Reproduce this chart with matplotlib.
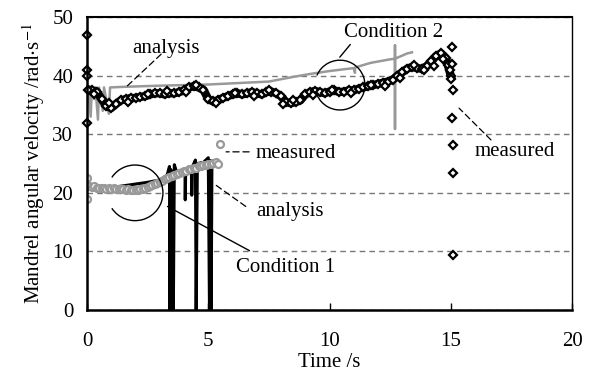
import matplotlib
matplotlib.use("Agg")
import matplotlib.pyplot as plt
from matplotlib.patches import Arc
import numpy as np

plt.rcParams['font.family'] = ['Liberation Serif', 'DejaVu Serif']
plt.rcParams['mathtext.fontset'] = 'stix'

# Condition 2, measured (diamonds), sampled every 0.2 s
c2_meas_t = np.round(np.arange(0.2, 15.01, 0.2), 2)
c2_meas_v = [37.5, 37.3, 36.0, 34.8, 34.5, 35.2, 35.8, 36.0, 36.2, 36.2,
             36.4, 36.5, 36.8, 37.0, 37.0, 36.8, 37.0, 37.0, 37.2, 37.5,
             38.0, 38.2, 38.0, 37.6, 36.0, 35.6, 35.8, 36.2, 36.5, 36.8,
             37.0, 36.8, 37.0, 37.2, 37.0, 36.8, 37.2, 37.3, 37.0, 36.5,
             35.5, 35.3, 35.5, 35.8, 36.8, 37.2, 37.4, 37.2, 37.0, 37.3,
             37.5, 37.2, 37.3, 37.5, 37.5, 37.8, 38.0, 38.2, 38.4, 38.6,
             38.8, 39.0, 39.3, 40.0, 40.6, 41.2, 41.5, 41.3, 41.2, 41.6,
             42.5, 43.4, 43.8, 43.0, 40.0]
# scattered measured points around the band
c2_scat_t = [0.3, 0.9, 1.7, 2.5, 3.3, 4.1, 4.5, 5.3, 6.1, 6.9, 7.5, 8.1, 8.5, 9.3,
             10.1, 10.9, 11.7, 12.3, 12.9, 13.5, 13.9, 14.3, 14.7, 14.9]
c2_scat_v = [36.9, 35.4, 35.5, 36.9, 37.4, 37.2, 38.5, 35.3, 37.0, 36.6, 37.5, 35.2, 35.9, 36.7,
             37.6, 37.0, 38.4, 38.3, 39.6, 41.9, 40.9, 41.7, 42.8, 41.9]
# isolated measured points at start and end of condition 2
c2_out_t = [0.0, 0.0, 0.0, 0.0, 0.05, 15.05, 15.1, 15.05, 15.1, 15.1, 15.1, 15.05, 14.95, 15.0]
c2_out_v = [47.0, 41.0, 40.0, 32.0, 37.5, 44.9, 37.5, 32.7, 28.2, 23.4, 9.4, 42.0, 41.0, 39.5]

# Condition 2, analysis (grey line)
c2_ana_t = [0.05, 0.15, 0.2, 0.3, 0.35, 0.45, 0.5, 0.65, 0.7, 0.9, 0.95, 1.5, 3.0,
            5.0, 6.0, 7.5, 8.5, 9.2, 10.0, 11.0, 11.05, 11.05, 11.7, 12.5, 12.7,
            12.7, 12.7, 12.7, 13.2, 13.4]
c2_ana_v = [38.0, 33.0, 38.0, 36.0, 38.0, 32.5, 38.0, 34.0, 38.0, 33.5, 38.0, 38.1, 38.3,
            38.5, 38.7, 39.0, 39.8, 40.3, 40.8, 41.3, 40.5, 41.4, 42.2, 42.8, 42.9,
            45.2, 30.9, 42.9, 43.8, 44.0]

# Condition 1, measured (black line, with drop-outs)
c1_meas_t = [0.1, 0.5, 1.0, 1.5, 2.0, 2.5, 3.0, 3.3, 3.4, 3.42, 3.45, 3.5, 3.56, 3.6,
             3.7, 3.9, 4.04, 4.05, 4.07, 4.3, 4.32, 4.35, 4.47, 4.5, 4.55, 4.8,
             5.0, 5.05, 5.1, 5.12, 5.15]
c1_meas_v = [20.8, 20.8, 20.9, 21.2, 21.5, 21.8, 22.2, 23.0, 24.5, 0.0, 24.0, 23.5, 0.0, 24.8,
             23.5, 23.5, 24.0, 18.8, 24.0, 24.5, 19.6, 24.5, 25.6, 0.0, 25.0, 25.2,
             26.0, 0.0, 25.5, 0.0, 25.0]

# Condition 1, analysis (grey circles)
c1_ana_t = [0.0, 0.0, 0.1, 0.2, 0.3, 0.4, 0.5, 0.6, 0.7, 0.8, 0.9, 1.0, 1.1, 1.2,
            1.3, 1.4, 1.5, 1.6, 1.7, 1.8, 1.9, 2.0, 2.1, 2.2, 2.3, 2.4, 2.5,
            2.6, 2.7, 2.8, 2.9, 3.0, 3.1, 3.2, 3.3, 3.4, 3.5, 3.6, 3.7, 3.8,
            3.9, 4.0, 4.1, 4.2, 4.3, 4.4, 4.5, 4.6, 4.7, 4.8, 4.9, 5.0, 5.1,
            5.2, 5.3, 5.4, 5.48]
c1_ana_v = [22.5, 19.0, 21.2, 21.0, 21.1, 20.9, 20.8, 20.9, 20.8, 20.7, 20.8, 20.7, 20.8, 20.6,
            20.7, 20.6, 20.6, 20.5, 20.6, 20.5, 20.4, 20.5, 20.5, 20.6, 20.6, 20.8, 21.0,
            21.1, 21.3, 21.5, 21.7, 21.9, 22.1, 22.3, 22.5, 22.7, 22.9, 23.1, 23.2, 23.4,
            23.5, 23.7, 23.8, 24.0, 24.1, 24.2, 24.3, 24.5, 24.6, 24.7, 24.8, 24.9, 25.0,
            25.1, 25.2, 25.0, 28.3]

fig = plt.figure(figsize=(5.94, 3.73), dpi=100)
ax = fig.add_axes([0.1465, 0.169, 0.8165, 0.785])

grey = '#999999'

# condition 1
ax.plot(c1_meas_t, c1_meas_v, color='black', lw=2.2, zorder=3)
ax.plot(c1_ana_t[2:-2], c1_ana_v[2:-2], color=grey, lw=4.0, zorder=4)
ax.plot(c1_ana_t, c1_ana_v, ls='none', marker='o', ms=5.0, mfc='white',
        mec=grey, mew=1.6, zorder=4)

# condition 2
ax.plot(c2_ana_t, c2_ana_v, color=grey, lw=1.8, zorder=3)
ax.plot(c2_meas_t, c2_meas_v, color='black', lw=6.0, zorder=4)
diam = dict(ls='none', marker='D', ms=4.0, mfc='white', mec='black', mew=1.6, zorder=5)
ax.plot(c2_meas_t, c2_meas_v, **diam)
ax.plot(c2_scat_t, c2_scat_v, **diam)
ax.plot(c2_out_t, c2_out_v, clip_on=False, **diam)

# circles marking each condition
ax.add_patch(Arc((10.43, 38.4), 2.06, 8.5, theta1=-120, theta2=120, color='black', lw=1.0, zorder=6))
ax.add_patch(Arc((1.98, 20.0), 2.3, 9.5, theta1=-110, theta2=110, color='black', lw=1.0, zorder=6))

fs = 15
dash = dict(arrowstyle='-', color='black', lw=0.9, linestyle=(0, (5, 3)))
solid = dict(arrowstyle='-', color='black', lw=1.0)
ax.text(3.26, 44.7, 'analysis', fontsize=fs, ha='center', va='center')
ax.annotate('', xy=(1.57, 37.9), xytext=(3.14, 44.0), arrowprops=dash)
ax.text(12.66, 47.4, 'Condition 2', fontsize=fs, ha='center', va='center')
ax.annotate('', xy=(10.35, 42.8), xytext=(10.93, 45.7), arrowprops=solid)
ax.text(8.62, 26.8, 'measured', fontsize=fs, ha='center', va='center')
ax.annotate('', xy=(5.62, 27.0), xytext=(6.8, 27.0), arrowprops=dash)
ax.text(8.37, 16.8, 'analysis', fontsize=fs, ha='center', va='center')
ax.annotate('', xy=(5.15, 21.8), xytext=(6.64, 17.4), arrowprops=dash)
ax.text(8.2, 7.3, 'Condition 1', fontsize=fs, ha='center', va='center')
ax.annotate('', xy=(3.22, 17.9), xytext=(6.8, 9.9), arrowprops=solid)
ax.text(17.65, 27.0, 'measured', fontsize=fs, ha='center', va='center')
ax.annotate('', xy=(15.26, 34.8), xytext=(16.74, 28.7), arrowprops=dash)

ax.set_xlim(0, 20)
ax.set_ylim(0, 50)
ax.set_xticks([0, 5, 10, 15, 20])
ax.set_yticks([0, 10, 20, 30, 40, 50])
ax.tick_params(axis='x', direction='in', length=5, width=1, pad=16, labelsize=fs)
ax.tick_params(axis='y', length=0, pad=10, labelsize=fs)
ax.yaxis.grid(True, color='#777777', lw=1.0, linestyle=(0, (4, 3)))
ax.set_axisbelow(True)
for side, w in [('left', 1.8), ('bottom', 1.8), ('top', 1.5), ('right', 1.0)]:
    ax.spines[side].set_linewidth(w)
    ax.spines[side].set_zorder(7)

ax.set_xlabel('Time /s', fontsize=fs, labelpad=1)
ax.set_ylabel(r'Mandrel angular velocity /rad$\cdot$s$^{-1}$', fontsize=fs, labelpad=4)

fig.savefig('out.png', dpi=100)
